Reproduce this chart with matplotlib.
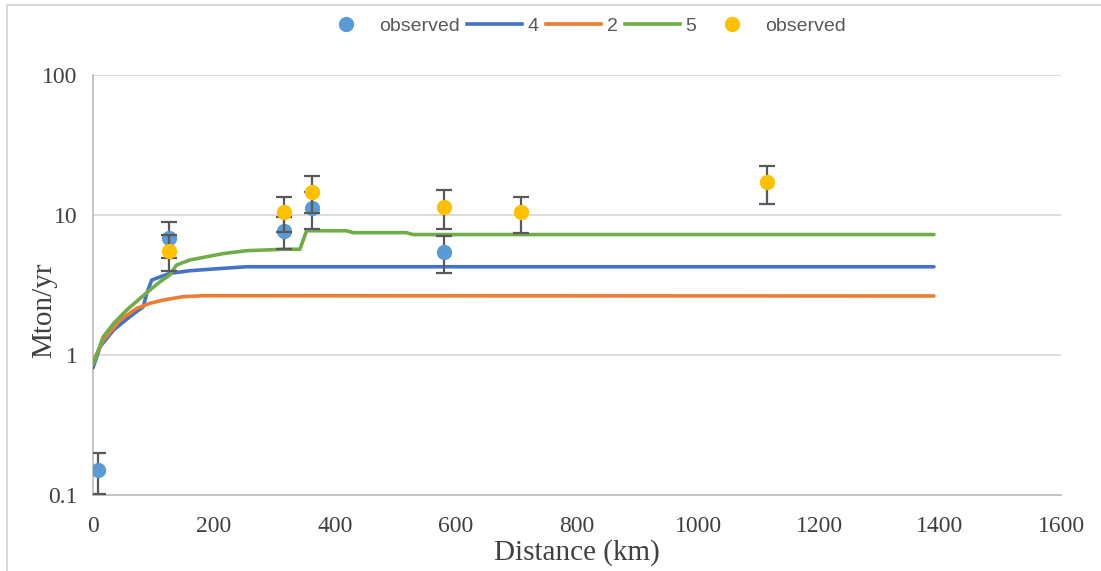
import matplotlib
matplotlib.use("Agg")
import matplotlib.pyplot as plt
from matplotlib.lines import Line2D
import numpy as np

# model curves (distance km, Mton/yr)
dist_4 = [0, 12, 34, 61, 83, 89, 97, 127, 160, 215, 254, 1390]
flux_4 = [0.81, 1.15, 1.51, 1.88, 2.21, 2.76, 3.43, 3.83, 4.0, 4.16, 4.27, 4.27]

dist_2 = [0, 17, 45, 72, 94, 116, 149, 182, 1390]
flux_2 = [0.89, 1.28, 1.78, 2.15, 2.34, 2.47, 2.61, 2.65, 2.64]

dist_5 = [0, 17, 34, 56, 78, 94, 111, 127, 138, 160, 215, 254, 315, 342, 353, 419,
          430, 518, 529, 1390]
flux_5 = [0.85, 1.35, 1.68, 2.1, 2.54, 2.91, 3.34, 3.73, 4.39, 4.77, 5.3, 5.56, 5.69,
          5.69, 7.72, 7.72, 7.48, 7.48, 7.25, 7.25]

# observations with error bars
obs_a_dist = [9, 126, 315, 362, 580]
obs_a_flux = [0.15, 6.9, 7.7, 11.2, 5.44]
obs_a_err = [0.048, 2.0, 2.0, 3.3, 1.6]

obs_b_dist = [126, 315, 362, 580, 707, 1114]
obs_b_flux = [5.55, 10.5, 14.7, 11.5, 10.45, 17.2]
obs_b_err = [1.6, 3.0, 4.3, 3.6, 3.0, 5.2]

W, H = 1101, 571
fig = plt.figure(figsize=(W / 100, H / 100), dpi=100)
ax = fig.add_axes([93 / W, 1 - 495 / H, (1061 - 93) / W, (495 - 75) / H])

grid_c = "#D9D9D9"
ax.set_yscale("log")
ax.set_xlim(0, 1600)
ax.set_ylim(0.1, 100)
ax.yaxis.grid(True, which="major", color=grid_c, lw=1.3)
ax.set_axisbelow(True)
for side in ["top", "right"]:
    ax.spines[side].set_visible(False)
for side in ["left", "bottom"]:
    ax.spines[side].set_color("#BFBFBF")
    ax.spines[side].set_linewidth(1.3)

ax.plot(dist_4, flux_4, color="#4472C4", lw=2.6, solid_capstyle="round", zorder=3)
ax.plot(dist_2, flux_2, color="#ED7D31", lw=2.6, solid_capstyle="round", zorder=3)
ax.plot(dist_5, flux_5, color="#70AD47", lw=2.6, solid_capstyle="round", zorder=3)

ax.errorbar(obs_a_dist, obs_a_flux, yerr=obs_a_err, fmt="o", color="#5B9BD5",
            ms=10, ecolor="#595959", elinewidth=1.6, capsize=6, capthick=1.6, zorder=4)
ax.errorbar(obs_b_dist, obs_b_flux, yerr=obs_b_err, fmt="o", color="#FFC000",
            ms=10, ecolor="#595959", elinewidth=1.6, capsize=6, capthick=1.6, zorder=5)

ax.set_xticks(range(0, 1601, 200))
ax.set_yticks([0.1, 1, 10, 100])
ax.set_yticklabels(["0.1", "1", "10", "100"])
ax.minorticks_off()
ax.tick_params(axis="x", length=0, labelsize=17, pad=15)
ax.tick_params(axis="y", length=0, labelsize=17, pad=11)
for lab in ax.get_xticklabels() + ax.get_yticklabels():
    lab.set_fontfamily("Liberation Serif")
    lab.set_color("#404040")

ax.set_xlabel("Distance (km)", fontsize=21, family="Liberation Serif", color="#404040")
ax.set_ylabel("Mton/yr", fontsize=21, family="Liberation Serif", color="#404040")
ax.xaxis.set_label_coords(0.5, -0.105)
ax.yaxis.set_label_coords(-0.037, 0.44)

handles = [
    Line2D([], [], ls="none", marker="o", ms=10, color="#5B9BD5"),
    Line2D([], [], color="#4472C4", lw=2.6),
    Line2D([], [], color="#ED7D31", lw=2.6),
    Line2D([], [], color="#70AD47", lw=2.6),
    Line2D([], [], ls="none", marker="o", ms=10, color="#FFC000"),
]
labels = ["observed", "4", "2", "5", "observed"]
leg = fig.legend(handles, labels, loc="center", bbox_to_anchor=(582 / W, 1 - 26 / H),
                 ncol=5, frameon=False, handlelength=2.8, handletextpad=0.3,
                 columnspacing=0.4, prop={"family": "Liberation Sans", "size": 14})
for t in leg.get_texts():
    t.set_color("#595959")

# chart outer border
fig.add_artist(Line2D([7 / W, 1], [1 - 5 / H, 1 - 5 / H], color="#D9D9D9", lw=1.5))
fig.add_artist(Line2D([7 / W, 7 / W], [0, 1 - 5 / H], color="#D9D9D9", lw=1.5))

fig.savefig("out.png", dpi=100)
